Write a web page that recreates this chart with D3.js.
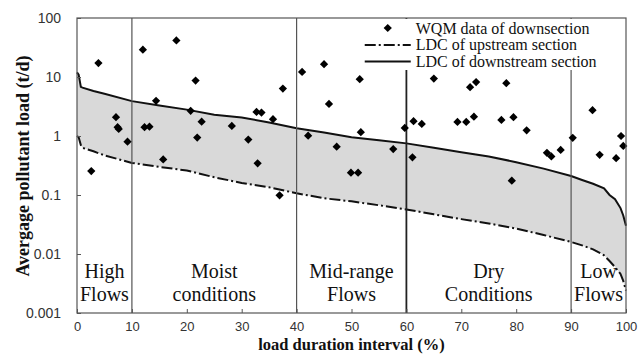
<!DOCTYPE html>
<html>
<head>
<meta charset="utf-8">
<style>
  body { margin: 0; background: #fff; }
  .axis text { font-family: "Liberation Sans", Arial, sans-serif; font-size: 14px; fill: #333; }
  .axis--x text { font-size: 13px; }
  .axis line { stroke: #555; }
  .region { font-family: "Liberation Serif", serif; font-size: 20px; fill: #111; }
  .legend text { font-family: "Liberation Serif", serif; font-size: 16px; fill: #111; }
  .title { font-family: "Liberation Serif", serif; font-size: 18px; font-weight: bold; fill: #111; }
</style>
</head>
<body>
<svg width="643" height="354"></svg>
<script src="https://cdnjs.cloudflare.com/ajax/libs/d3/7.8.5/d3.min.js"></script>
<script>

// load duration curves (x = load duration interval %, y = t/d)
var durationPct   = [0, 0.3, 0.7, 1, 3, 5, 10, 15, 20, 25, 30, 35, 40, 45, 50, 55, 60, 65, 70, 75, 80, 85, 90, 92, 94, 96, 97, 98, 99, 99.5, 100];
var downstreamLdc = [12, 11, 6.8, 6.6, 5.8, 5.2, 3.9, 3.3, 2.8, 2.3, 2.05, 1.7, 1.35, 1.15, 0.95, 0.85, 0.75, 0.63, 0.53, 0.45, 0.36, 0.28, 0.21, 0.18, 0.155, 0.13, 0.1, 0.085, 0.06, 0.045, 0.03];
var upstreamLdc   = [1.0, 0.95, 0.7, 0.63, 0.55, 0.47, 0.35, 0.3, 0.26, 0.2, 0.16, 0.135, 0.107, 0.088, 0.078, 0.067, 0.057, 0.047, 0.039, 0.033, 0.027, 0.021, 0.016, 0.014, 0.012, 0.0095, 0.0076, 0.006, 0.0046, 0.0035, 0.0024];

// WQM samples of the downstream section
var wqmPct  = [2.6, 3.9, 7.1, 7.4, 7.6, 9.2, 12.0, 12.3, 13.2, 14.4, 15.7, 18.1, 21.6, 20.7, 22.7, 21.9, 28.2, 31.2, 32.7, 33.6, 32.9, 35.7, 37.5, 36.9,
               41.0, 42.1, 45.0, 45.9, 47.3, 49.9, 51.2, 51.5, 51.7, 57.6, 59.7, 61.1, 61.3, 62.8, 65.0, 69.3, 70.9, 72.3, 71.6, 72.7,
               77.3, 78.2, 79.5, 79.2, 81.9, 85.6, 86.4, 88.1, 90.3, 93.9, 95.2, 98.2, 99.1, 99.5];
var wqmLoad = [0.255, 17.2, 2.08, 1.41, 1.32, 0.8, 29, 1.41, 1.44, 3.94, 0.4, 41.7, 8.7, 2.67, 1.75, 0.94, 1.48, 0.87, 2.56, 2.49, 0.345, 1.93, 6.37, 0.099,
               12.2, 1.01, 16.5, 3.5, 0.66, 0.239, 0.239, 9.2, 1.16, 0.6, 1.37, 0.436, 1.78, 1.6, 9.42, 1.73, 1.73, 2.13, 6.73, 8.19,
               1.87, 7.87, 2.08, 0.175, 1.25, 0.52, 0.45, 0.58, 0.93, 2.74, 0.48, 0.42, 1.0, 0.68];

var xTicks = [0, 10, 20, 30, 40, 50, 60, 70, 80, 90, 100];
var yTicks = [0.001, 0.01, 0.1, 1, 10, 100];
var yTickLabels = ["0.001", "0.01", "0.1", "1", "10", "100"];

// flow regimes
var regionBounds  = [10, 40, 60, 90];
var regionCenters = [5, 25, 50, 75, 95];
var regionLabels  = [["High", "Flows"], ["Moist", "conditions"], ["Mid-range", "Flows"], ["Dry", "Conditions"], ["Low", "Flows"]];

var legendLabels = ["WQM data of downsection", "LDC of upstream section", "LDC of downstream section"];

var svg = d3.select("svg"),
    margin = {top: 18, right: 17, bottom: 41, left: 77},
    width = +svg.attr("width") - margin.left - margin.right,
    height = +svg.attr("height") - margin.top - margin.bottom,
    g = svg.append("g").attr("transform", "translate(" + margin.left + "," + margin.top + ")");

var x = d3.scaleLinear().domain([0, 100]).range([0, width]);
var y = d3.scaleLog().domain([0.001, 100]).range([height, 0]);

var curve = durationPct.map(function(p, i) { return {p: p, up: upstreamLdc[i], down: downstreamLdc[i]}; });

// shaded band between the two curves
g.append("path")
    .datum(curve)
    .attr("fill", "#d9d9d9")
    .attr("d", d3.area()
        .x(function(d) { return x(d.p); })
        .y0(function(d) { return y(d.up); })
        .y1(function(d) { return y(d.down); }));

g.append("path")
    .datum(curve)
    .attr("fill", "none")
    .attr("stroke", "#111")
    .attr("stroke-width", 2)
    .attr("stroke-dasharray", "11,3,2,3")
    .attr("d", d3.line().x(function(d) { return x(d.p); }).y(function(d) { return y(d.up); }));

g.append("path")
    .datum(curve)
    .attr("fill", "none")
    .attr("stroke", "#111")
    .attr("stroke-width", 2)
    .attr("d", d3.line().x(function(d) { return x(d.p); }).y(function(d) { return y(d.down); }));

// regime dividers
g.selectAll(".divider")
    .data(regionBounds)
    .enter().append("line")
        .attr("class", "divider")
        .attr("x1", function(d) { return x(d); })
        .attr("x2", function(d) { return x(d); })
        .attr("y1", 0)
        .attr("y2", height)
        .attr("stroke", function(d) { return d == 60 ? "#222" : "#555"; })
        .attr("stroke-width", function(d) { return d == 60 ? 1.8 : 1.2; });

// region labels
var region = g.selectAll(".region")
    .data(regionLabels)
    .enter().append("text")
        .attr("class", "region")
        .attr("text-anchor", "middle")
        .attr("transform", function(d, i) { return "translate(" + x(regionCenters[i]) + "," + (height - 35) + ")"; });
region.selectAll("tspan")
    .data(function(d) { return d; })
    .enter().append("tspan")
        .attr("x", 0)
        .attr("dy", function(d, i) { return i ? 23 : 0; })
        .text(function(d) { return d; });

// samples
var diamond = d3.symbol().type(d3.symbolSquare).size(34);
g.selectAll(".wqm")
    .data(wqmPct)
    .enter().append("path")
        .attr("class", "wqm")
        .attr("d", diamond)
        .attr("fill", "#000")
        .attr("transform", function(d, i) { return "translate(" + x(d) + "," + y(wqmLoad[i]) + ") rotate(45)"; });

// legend (white box hides the dividers behind it)
var legend = g.append("g")
    .attr("class", "legend")
    .attr("transform", "translate(" + (x(51.5)) + ",0)");
legend.append("rect")
    .attr("x", 0).attr("y", 1)
    .attr("width", width - x(51.5) - 1).attr("height", 51)
    .attr("fill", "#fff");
legend.selectAll("text")
    .data(legendLabels)
    .enter().append("text")
        .attr("x", 56)
        .attr("y", function(d, i) { return 10 + i * 16.7; })
        .attr("dy", "0.35em")
        .text(function(d) { return d; });
legend.append("path")
    .attr("d", diamond)
    .attr("fill", "#000")
    .attr("transform", "translate(28,10) rotate(45)");
legend.append("line")
    .attr("x1", 5).attr("x2", 51).attr("y1", 27).attr("y2", 27)
    .attr("stroke", "#111").attr("stroke-width", 2).attr("stroke-dasharray", "11,3,2,3");
legend.append("line")
    .attr("x1", 5).attr("x2", 51).attr("y1", 43.5).attr("y2", 43.5)
    .attr("stroke", "#111").attr("stroke-width", 2);

// axes, ticks drawn inward
g.append("g")
    .attr("class", "axis axis--x")
    .attr("transform", "translate(0," + height + ")")
    .call(d3.axisBottom(x).tickValues(xTicks).tickSizeInner(-4).tickSizeOuter(0).tickPadding(9))
    .call(function(a) { a.select(".domain").remove(); });

g.append("g")
    .attr("class", "axis axis--y")
    .call(d3.axisLeft(y).tickValues(yTicks).tickFormat(function(d, i) { return yTickLabels[i]; })
        .tickSizeInner(-4).tickSizeOuter(0).tickPadding(16))
    .call(function(a) { a.select(".domain").remove(); });

// plot frame
g.append("rect")
    .attr("width", width)
    .attr("height", height)
    .attr("fill", "none")
    .attr("stroke", "#555")
    .attr("stroke-width", 1.2);

// axis titles
svg.append("text")
    .attr("class", "title")
    .attr("text-anchor", "middle")
    .attr("x", margin.left + width / 2)
    .attr("y", 350)
    .style("font-size", "16.5px")
    .text("load duration interval (%)");

svg.append("text")
    .attr("class", "title")
    .attr("text-anchor", "middle")
    .attr("transform", "translate(29," + 166 + ") rotate(-90)")
    .text("Avergage pollutant load (t/d)");

</script>
</body>
</html>
